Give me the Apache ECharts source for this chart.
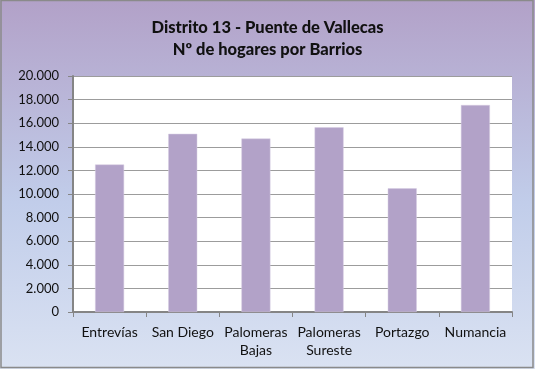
<!DOCTYPE html>
<html>
<head>
<meta charset="utf-8">
<script src="https://cdn.jsdelivr.net/npm/echarts@6/dist/echarts.min.js"></script>
<style>
  html, body { margin: 0; padding: 0; background: #ffffff; }
  #chart { width: 535px; height: 369px; }
</style>
</head>
<body>
<div id="chart"></div>
<script>
// Households per neighbourhood, District 13 (Puente de Vallecas)
var barrios = ['Entrevías', 'San Diego', 'Palomeras\nBajas', 'Palomeras\nSureste', 'Portazgo', 'Numancia'];
var hogares = [12500, 15100, 14700, 15650, 10480, 17540];
var yTicks = [0, 2000, 4000, 6000, 8000, 10000, 12000, 14000, 16000, 18000, 20000];

function fmtMiles(v) {
  return String(v).replace(/\B(?=(\d{3})+(?!\d))/g, '.');
}

var chart = echarts.init(document.getElementById('chart'), null, { renderer: 'canvas' });

chart.setOption({
  animation: false,
  backgroundColor: {
    type: 'linear', x: 0, y: 0, x2: 0, y2: 1,
    colorStops: [
      { offset: 0, color: '#b2a1c8' },
      { offset: 0.55, color: '#c1cdea' },
      { offset: 1, color: '#dae2f2' }
    ]
  },
  graphic: [
    {
      type: 'rect',
      shape: { x: 1, y: 0.5, width: 532, height: 367 },
      style: { fill: 'none', stroke: '#8a8a8a', lineWidth: 1.5 },
      z: 100
    }
  ],
  title: {
    text: 'Distrito 13 - Puente de Vallecas\nNº de hogares por Barrios',
    left: 'center',
    top: 17,
    padding: 0,
    textStyle: {
      fontFamily: 'Lato',
      fontWeight: 900,
      fontSize: 16.5,
      lineHeight: 22,
      color: '#111111'
    }
  },
  grid: { left: 73, right: 23, top: 76, bottom: 57, backgroundColor: '#ffffff', show: true, borderWidth: 0 },
  xAxis: {
    type: 'category',
    data: barrios,
    boundaryGap: true,
    axisLine: { lineStyle: { color: '#858585', width: 2 } },
    axisTick: { show: true, length: 5, alignWithLabel: false, lineStyle: { color: '#858585' } },
    axisLabel: {
      interval: 0,
      margin: 11,
      fontFamily: 'Lato',
      fontSize: 14,
      lineHeight: 18,
      color: '#111111'
    }
  },
  yAxis: {
    type: 'value',
    min: yTicks[0],
    max: yTicks[yTicks.length - 1],
    interval: 2000,
    axisLine: { show: true, lineStyle: { color: '#858585', width: 2 } },
    axisTick: { show: true, length: 5, lineStyle: { color: '#858585' } },
    splitLine: { lineStyle: { color: '#9c9c9c', width: 1 } },
    axisLabel: {
      margin: 14,
      fontFamily: 'Lato',
      fontSize: 13,
      color: '#111111',
      formatter: function (v) { return fmtMiles(v); }
    }
  },
  series: [
    {
      type: 'bar',
      data: hogares,
      barWidth: 29,
      itemStyle: { color: '#b2a2c8', borderColor: '#d6cde3', borderWidth: 0.5 }
    }
  ]
});
</script>
</body>
</html>
